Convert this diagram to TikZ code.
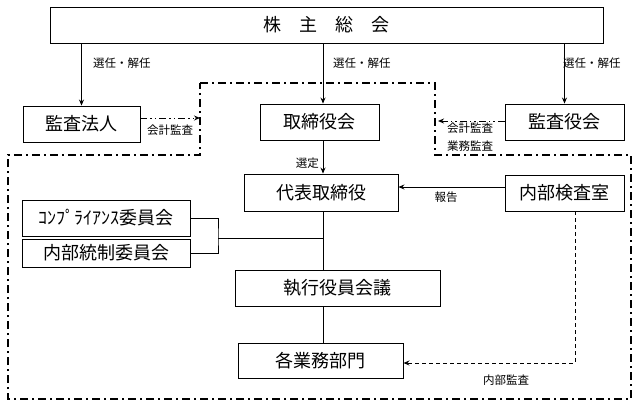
\documentclass[tikz,border=0pt]{standalone}
\usepackage{fontspec}
\setmainfont{Noto Sans CJK JP}
\usetikzlibrary{arrows.meta}
\begin{document}
\begin{tikzpicture}[x=1pt,y=-1pt,
    box/.style={draw,line width=0.9pt,inner sep=0pt,font=\fontsize{18}{20}\selectfont},
    lbl/.style={inner sep=0pt,font=\fontsize{11.5}{13}\selectfont},
    arr/.style={-{Stealth[length=6pt,width=5pt]},line width=0.8pt},
    dashdot/.style={line width=1.4pt,dash pattern=on 8pt off 4pt on 2pt off 4pt},
    dashdotdot/.style={line width=1pt,dash pattern=on 7pt off 3pt on 1.5pt off 3pt on 1.5pt off 3pt},
    dash4/.style={line width=1pt,dash pattern=on 4pt off 3pt}]
    \useasboundingbox (0,0) rectangle (637,410);
    \draw[dashdot] (200,83) -- (435,83) -- (435,155) -- (631,155) -- (631,399) -- (8,399) -- (8,155) -- (200,155) -- cycle;
    \node[box,minimum width=553pt,minimum height=36pt] (soukai) at (326.5,25) {株　主　総　会};
    \node[box,minimum width=117pt,minimum height=36pt] (houjin) at (81.5,124) {監査法人};
    \node[box,minimum width=119pt,minimum height=36pt] (torishimari) at (319.5,122) {取締役会};
    \node[box,minimum width=119pt,minimum height=36pt] (kansayaku) at (564.5,122) {監査役会};
    \node[box,minimum width=154pt,minimum height=37pt] (daihyo) at (321,192.5) {代表取締役};
    \node[box,minimum width=119pt,minimum height=36pt] (naibu) at (564.5,193) {内部検査室};
    \node[box,minimum width=168pt,minimum height=36pt] (compliance) at (106,218) {ｺﾝﾌﾟﾗｲｱﾝｽ委員会};
    \node[box,minimum width=168pt,minimum height=28pt] (tousei) at (106,253) {内部統制委員会};
    \node[box,minimum width=205pt,minimum height=36pt] (shikko) at (337.5,288) {執行役員会議};
    \node[box,minimum width=165pt,minimum height=35pt] (bumon) at (320.5,360.5) {各業務部門};
    \coordinate (spine) at (323,0);
    \coordinate (brk) at (218,238);
    \coordinate (rep) at (0,187);
    \coordinate (aud) at (575,363);
    \coordinate (inA) at (200,118);
    \coordinate (inB) at (438,121);
    \draw[arr] (soukai.south -| houjin.north) -- (houjin.north);
    \draw[arr] (soukai.south -| spine) -- (torishimari.north -| spine);
    \draw[arr] (soukai.south -| kansayaku.north) -- (kansayaku.north);
    \node[lbl,anchor=west] (sennin1) at (93,63) {選任・解任};
    \node[lbl,anchor=west] (sennin2) at (333,63) {選任・解任};
    \node[lbl,anchor=west] (sennin3) at (563,63) {選任・解任};
    \draw[arr] (torishimari.south -| spine) -- (daihyo.north -| spine);
    \node[lbl,anchor=east] (sentei) at (319,163) {選定};
    \draw[line width=0.8pt] (daihyo.south -| spine) -- (shikko.north -| spine);
    \draw[line width=0.8pt] (shikko.south -| spine) -- (bumon.north -| spine);
    \draw[line width=0.8pt] (compliance.east) -| (brk) |- (tousei.east);
    \draw[line width=0.8pt] (brk) -- (brk -| spine);
    \draw[arr] (naibu.west |- rep) -- (daihyo.east |- rep);
    \node[lbl] (houkoku) at (446,197) {報告};
    \draw[arr,dash4] (naibu.south -| aud) -- (aud) -- (bumon.east |- aud);
    \node[lbl] (naibukansa) at (506,380) {内部監査};
    \draw[arr,dashdotdot] (houjin.east |- inA) -- (inA);
    \node[lbl] (kaikei1) at (170,130) {会計監査};
    \draw[arr,dashdotdot] (kansayaku.west |- inB) -- (inB);
    \node[lbl] (kaikei2) at (470,128) {会計監査};
    \node[lbl] (gyoumu) at (470,146) {業務監査};
\end{tikzpicture}
\end{document}
